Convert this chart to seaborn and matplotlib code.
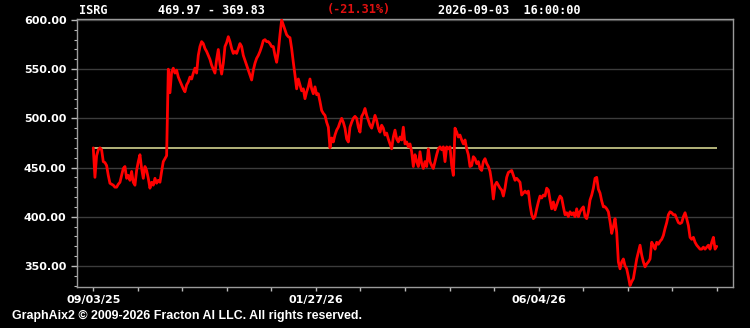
import numpy as np
import pandas as pd
import matplotlib
matplotlib.use("Agg")
import matplotlib.pyplot as plt
from matplotlib.ticker import MultipleLocator, FixedLocator
import seaborn as sns

symbol = "ISRG"
start_price = 469.97
end_price = 369.83
pct_change = "(-21.31%)"
timestamp = "2026-09-03  16:00:00"
x_labels = ["09/03/25", "01/27/26", "06/04/26"]
footer = "GraphAix2 \u00a9 2009-2026 Fracton AI LLC. All rights reserved."

seg1 = [469.97, 440, 462, 468, 470, 468, 456, 455, 452, 442, 434, 433, 432, 430, 430, 433, 435, 442, 449, 451,
        439, 442, 437, 446, 435, 432, 447, 456, 463, 449, 439, 451, 447, 439, 429, 435, 432, 439, 434, 437,
        435, 446, 456, 459, 462, 550, 526, 547, 551, 546, 549, 542, 538, 534, 530, 527, 534, 537, 542, 540,
        546, 551, 546, 564, 573, 578, 576, 571, 568, 564, 560, 554, 550, 546]
seg2 = [560, 570, 555, 545, 556, 573, 577, 583, 578, 571, 566, 568, 566, 571, 576, 573, 564, 559, 554, 549,
        544, 539, 549, 556, 561, 564, 568, 573, 579, 580, 578, 578, 576, 573, 573, 564, 557, 568, 585, 600,
        595, 590, 585, 583, 582, 571, 557, 544, 530, 540, 534, 528, 530, 520, 527, 532, 540, 530, 525, 532,
        524, 525, 517, 508, 505, 503, 496, 491, 470, 480, 476, 483, 488, 491, 496]
seg3 = [500, 496, 490, 479, 476, 491, 496, 500, 502, 500, 491, 486, 502, 505, 510, 503, 498, 493, 490, 496,
        503, 498, 490, 486, 493, 490, 483, 485, 479, 474, 469, 481, 488, 479, 476, 481, 478, 491, 474, 476,
        471, 474, 466, 451, 463, 456, 451, 466, 454, 449, 456, 451, 469, 456, 452, 449, 456, 463, 469, 471,
        468, 471, 456, 471, 469, 471, 452, 442, 490, 486, 481, 483, 478, 474, 478]
seg4 = [469, 463, 451, 452, 461, 459, 454, 456, 449, 447, 456, 459, 454, 451, 446, 435, 418, 432, 435, 432,
        429, 427, 421, 429, 440, 445, 446, 447, 442, 437, 439, 437, 435, 422, 424, 426, 424, 426, 412, 402,
        398, 400, 408, 415, 421, 419, 422, 421, 429, 427, 417, 408, 415, 407, 412, 417, 421, 419, 410, 402,
        404, 400, 405, 402, 404, 400, 408, 400, 405, 408, 410, 400, 398, 405, 417]
seg5 = [422, 429, 439, 440, 428, 424, 416, 410, 410, 408, 405, 395, 383, 390, 398, 384, 354, 347, 354, 357,
        350, 347, 339, 330, 334, 337, 347, 357, 364, 371, 361, 354, 349, 352, 354, 357, 374, 371, 367, 374,
        372, 375, 377, 381, 388, 394, 402, 405, 404, 402, 402, 398, 394, 393, 394, 400, 404, 398, 391, 379,
        377, 379, 374, 371, 369, 367, 367, 369, 367, 369, 371, 367, 374, 379, 367, 369.83]
prices = seg1 + seg2 + seg3 + seg4 + seg5

df = pd.DataFrame({"step": np.arange(len(prices)), "price": prices})
n = len(prices)

sns.set_style("dark")
plt.rcParams["font.family"] = ["DejaVu Sans"]

fig = plt.figure(figsize=(7.5, 3.28), dpi=100, facecolor="black")
ax = fig.add_axes([77 / 750, 1 - 287 / 328, (733 - 77) / 750, (287 - 19) / 328])
ax.set_facecolor("black")

ax.hlines(start_price, 0, n - 1, color="#e4e49a", linewidth=1.1, zorder=2)
sns.lineplot(data=df, x="step", y="price", color="#ff0000", linewidth=2.0, ax=ax, zorder=3)

pad = (n - 1) * 16.3 / 624.4
ax.set_xlim(-pad, n - 1 + pad)
ax.set_ylim(328.5, 601)

ax.yaxis.set_major_locator(MultipleLocator(50))
ax.yaxis.set_minor_locator(MultipleLocator(10))
ax.yaxis.set_major_formatter(matplotlib.ticker.FormatStrFormatter("%.2f"))
ax.grid(axis="y", which="major", color="#3c3c3c", linewidth=1.0)
ax.grid(axis="x", visible=False)

xt = [(n - 1) * k / 14 for k in range(15)]
ax.xaxis.set_major_locator(FixedLocator([xt[0], xt[5], xt[10]]))
ax.xaxis.set_minor_locator(FixedLocator(xt))
ax.set_xticklabels(x_labels)
ax.set_xlabel("")
ax.set_ylabel("")

ax.tick_params(axis="both", which="both", colors="#bbbbbb", labelcolor="white",
               direction="out", labelsize=8)
ax.tick_params(axis="y", which="major", length=4, width=1, left=True)
ax.tick_params(axis="y", which="minor", length=2, width=0.8, left=True)
ax.tick_params(axis="x", which="major", length=3, width=1, bottom=True, pad=3)
ax.tick_params(axis="x", which="minor", length=3, width=1, bottom=True)
for lab in ax.get_xticklabels() + ax.get_yticklabels():
    lab.set_fontweight("bold")

for side in ["left", "right", "top", "bottom"]:
    ax.spines[side].set_visible(True)
    ax.spines[side].set_color("#9a9a9a")
    ax.spines[side].set_linewidth(1.0)

mono = dict(family="DejaVu Sans Mono", fontweight="bold", fontsize=8.6, va="center")
fig.text(79 / 750, 1 - 10 / 328, symbol, color="white", ha="left", **mono)
fig.text(158 / 750, 1 - 10 / 328, f"{start_price:.2f} - {end_price:.2f}", color="white", ha="left", **mono)
fig.text(327 / 750, 1 - 10 / 328, pct_change, color="#e01010", ha="left", **mono)
fig.text(438 / 750, 1 - 10 / 328, timestamp, color="white", ha="left", **mono)

fig.text(12 / 750, 1 - 316 / 328, footer, color="white", ha="left", va="center",
         family="Liberation Sans", fontweight="bold", fontsize=8.9)

fig.savefig("out.png", dpi=100, facecolor="black")
